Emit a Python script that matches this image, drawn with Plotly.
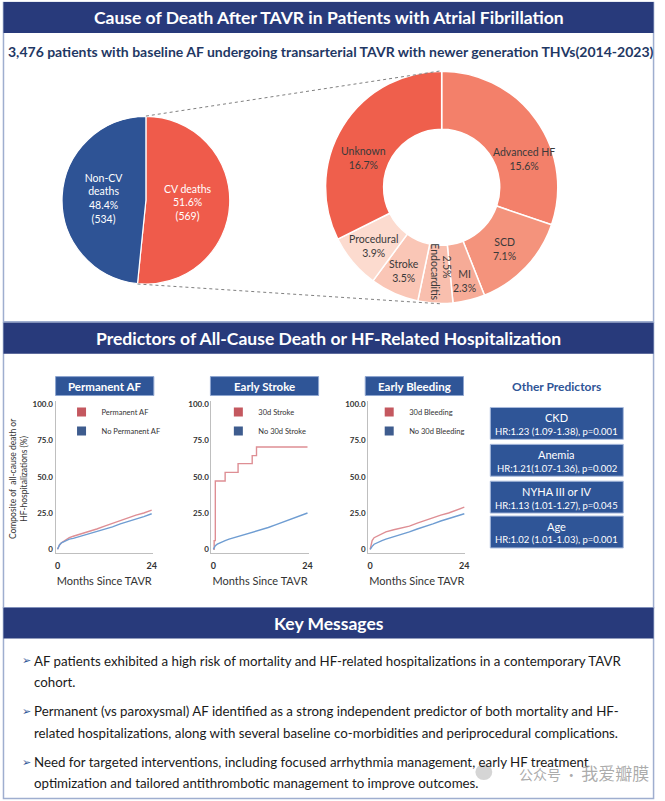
import math
import plotly.graph_objects as go

W, H = 665, 801
def px(x): return x / W
def py(y): return 1 - y / H

FONT = "Lato"
NAVY = "#283A7B"
BLUE = "#2F5597"
BORDER = "#9FAECF"

# ---------------- data ----------------
pie_labels = ["CV deaths", "Non-CV deaths"]
pie_pct = [51.6, 48.4]
pie_n = [569, 534]
pie_colors = ["#EF5B4B", "#2E5395"]

cv_labels = ["Advanced HF", "SCD", "MI", "Endocarditis", "Stroke", "Procedural", "Unknown"]
cv_pct = [15.6, 7.1, 2.3, 2.5, 3.5, 3.9, 16.7]
cv_colors = ["#F3806A", "#F4937C", "#F6AB97", "#F9BFAE", "#FAC6B6", "#FCDBCF", "#EF5F4C"]

perm_months = [0, 0.5, 1, 2, 3, 4, 6, 8, 10, 12, 14, 16, 18, 20, 22, 24]
perm_af = [0, 3, 4.5, 6.5, 8, 9, 10.5, 12, 14, 16, 18, 20, 21.5, 23.5, 25, 27]
no_perm_af = [0, 3, 4.5, 6, 7, 7.5, 9, 10.5, 12, 14, 15.5, 17.5, 19, 21, 22.5, 24.5]

stroke_months = [0, 0.2, 0.5, 3, 6.3, 9.9, 11, 24]
stroke_30d = [0, 6, 47, 53, 59, 64.5, 70.5, 70.5]
nostroke_months = [0, 0.5, 1, 2, 3, 4, 6, 8, 10, 12, 14, 16, 18, 20, 22, 24]
no_stroke_30d = [0, 2.5, 3.5, 5, 6, 7, 8.5, 10, 11.5, 13, 15, 17, 19, 21, 23, 25]

bleed_months = [0, 0.3, 0.5, 1, 2, 3, 4, 6, 8, 10, 12, 14, 16, 18, 20, 22, 24]
bleed_30d = [0, 4, 6, 8, 9.5, 11, 12, 13.5, 14.5, 16, 18, 20, 22, 23.5, 25, 27, 29]
no_bleed_30d = [0, 1.5, 2, 3.5, 5, 6, 7, 8.5, 10.5, 12, 14, 15.5, 17.5, 19.5, 21, 23, 24.5]

y_tickvals = [0, 25, 50, 75, 100]
y_ticktext = ["0", "25.0", "50.0", "75.0", "100.0"]
x_tickvals = [0, 24]
x_ticktext = ["0", "24"]

panel_titles = ["Permanent AF", "Early Stroke", "Early Bleeding"]
legend_names = [["Permanent AF", "No Permanent AF"],
                ["30d Stroke", "No 30d Stroke"],
                ["30d Bleeding", "No 30d Bleeding"]]

pred_names = ["CKD", "Anemia", "NYHA III or IV", "Age"]
pred_hr = ["HR:1.23 (1.09-1.38), p=0.001", "HR:1.21(1.07-1.36), p=0.002",
           "HR:1.13 (1.01-1.27), p=0.045", "HR:1.02 (1.01-1.03), p=0.001"]

key_lines = [
    ["AF patients exhibited a high risk of mortality and HF-related hospitalizations in a contemporary TAVR",
     "cohort."],
    ["Permanent (vs paroxysmal) AF identified as a strong independent predictor of both mortality and HF-",
     "related hospitalizations, along with several baseline co-morbidities and periprocedural complications."],
    ["Need for targeted interventions, including focused arrhythmia management, early HF treatment",
     "optimization and tailored antithrombotic management to improve outcomes."],
]

RED_LINE = "#DE8E94"
BLUE_LINE = "#6F9DD2"
RED_SQ = "#C4585F"
BLUE_SQ = "#3E5C8E"

fig = go.Figure()

# ---------------- pies ----------------
pc = (146, 199); pr = 84.5
fig.add_trace(go.Pie(
    labels=pie_labels, values=pie_pct, sort=False, direction="clockwise", rotation=0,
    marker=dict(colors=pie_colors, line=dict(color="white", width=1.2)),
    text=[f"{l.replace('Non-CV deaths', 'Non-CV<br>deaths')}<br>{p}%<br>({n})" for l, p, n in zip(pie_labels, pie_pct, pie_n)],
    textinfo="text", textposition="inside", insidetextorientation="horizontal",
    textfont=dict(family=FONT, size=10.5, color="white"),
    hoverinfo="label+percent",
    domain=dict(x=[px(pc[0] - pr), px(pc[0] + pr)], y=[py(pc[1] + pr), py(pc[1] - pr)]),
    showlegend=False))

dc = (444, 186); dr = 117
fig.add_trace(go.Pie(
    labels=cv_labels, values=cv_pct, sort=False, direction="clockwise", rotation=0, hole=0.5,
    marker=dict(colors=cv_colors, line=dict(color="white", width=1.5)),
    textinfo="none", hoverinfo="label+value",
    domain=dict(x=[px(dc[0] - dr), px(dc[0] + dr)], y=[py(dc[1] + dr), py(dc[1] - dr)]),
    showlegend=False))

annotations = []
shapes = []

def ann(x, y, text, size=10, color="#333333", bold=False, xanchor="center", angle=0, **kw):
    t = f"<b>{text}</b>" if bold else text
    annotations.append(dict(x=px(x), y=py(y), xref="paper", yref="paper", text=t, showarrow=False,
                            xanchor=xanchor, yanchor="middle", textangle=angle,
                            font=dict(family=kw.pop("family", FONT), size=size, color=color), **kw))

# donut labels
donut_pos = {"Advanced HF": (527, 158), "SCD": (507, 248), "MI": (467, 280),
             "Stroke": (406, 270), "Procedural": (375, 245), "Unknown": (365, 157)}
for lab, v in zip(cv_labels, cv_pct):
    if lab in donut_pos:
        x, y = donut_pos[lab]
        ann(x, y, f"{lab}<br>{v}%", size=10.5, color="#3A3A3A")
    else:
        ann(437, 271, lab, size=10.5, color="#3A3A3A", angle=90)
        ann(449, 266, f"{v}%", size=10.5, color="#3A3A3A", angle=90)

# dotted connectors (from the CV slice edges of the main pie to the donut)
ang = 2 * math.pi * pie_pct[0] / 100
bx = pc[0] + pr * math.sin(ang); by = pc[1] - pr * math.cos(ang)
shapes.append(dict(type="line", xref="paper", yref="paper", x0=px(pc[0]), y0=py(pc[1] - pr),
                   x1=px(dc[0]), y1=py(dc[1] - dr), line=dict(color="#808080", width=1, dash="dot")))
shapes.append(dict(type="line", xref="paper", yref="paper", x0=px(bx), y0=py(by),
                   x1=px(dc[0]), y1=py(dc[1] + dr), line=dict(color="#808080", width=1, dash="dot")))

# ---------------- section frames & bands ----------------
L, R = 2.5, 657.5
for (y0, y1) in [(0.5, 321), (322, 608), (608, 799.5)]:
    shapes.append(dict(type="rect", xref="paper", yref="paper", x0=px(L), x1=px(R), y0=py(y1), y1=py(y0),
                       line=dict(color=BORDER, width=1.5), fillcolor="rgba(0,0,0,0)", layer="below"))
for (y0, y1, t) in [(0, 31, "Cause of Death After TAVR in Patients with Atrial Fibrillation"),
                    (322, 353, "Predictors of All-Cause Death or HF-Related Hospitalization"),
                    (608, 639, "Key Messages")]:
    shapes.append(dict(type="rect", xref="paper", yref="paper", x0=px(L), x1=px(R), y0=py(y1), y1=py(y0),
                       line=dict(width=0), fillcolor=NAVY, layer="below"))
    ann(330, (y0 + y1) / 2 + 0.5, t, size=17.5, color="white", bold=True)

ann(332, 50, "3,476 patients with baseline AF undergoing transarterial TAVR with newer generation THVs(2014-2023)",
    size=14, color="#1F3864", bold=True)

# ---------------- KM panels ----------------
panels = [
    dict(x0=55, x1=153, series=[(perm_months, perm_af, "linear"), (perm_months, no_perm_af, "linear")]),
    dict(x0=212, x1=310, series=[(stroke_months, stroke_30d, "hv"), (nostroke_months, no_stroke_30d, "linear")]),
    dict(x0=370, x1=468, series=[(bleed_months, bleed_30d, "linear"), (bleed_months, no_bleed_30d, "linear")]),
]
title_boxes = [(55, 154), (211, 320), (367, 466)]
legend_x = [61, 219, 371]
Y_TOP, Y_BOT = 400, 553
layout_axes = {}
for i, p in enumerate(panels):
    n = "" if i == 0 else str(i + 1)
    xa, ya = "x" + n, "y" + n
    for (mx, my, shape), c in zip(p["series"], [RED_LINE, BLUE_LINE]):
        fig.add_trace(go.Scatter(x=mx, y=my, mode="lines", line=dict(color=c, width=1.4, shape=shape),
                                 xaxis=xa, yaxis=ya, showlegend=False, hoverinfo="x+y"))
    lg = "legend" if i == 0 else f"legend{i + 1}"
    for name, c in zip(legend_names[i], [RED_SQ, BLUE_SQ]):
        fig.add_trace(go.Scatter(x=[None], y=[None], mode="markers", name=name,
                                 marker=dict(symbol="square", size=9, color=c),
                                 xaxis=xa, yaxis=ya, legend=lg, showlegend=True))
    layout_axes["xaxis" + n] = dict(domain=[px(p["x0"]), px(p["x1"])], range=[-0.5, 24.3],
                                    anchor=ya, tickvals=x_tickvals,
                                    ticktext=[f"<b>{t}</b>" for t in x_ticktext],
                                    showgrid=False, zeroline=False, showline=True, linecolor="#BFBFBF",
                                    linewidth=1, ticks="outside", ticklen=4, tickcolor="rgba(0,0,0,0)",
                                    tickfont=dict(family=FONT, size=9, color="#333"),
                                    title=dict(text="Months Since TAVR", standoff=7,
                                               font=dict(family=FONT, size=11, color="#333")))
    layout_axes["yaxis" + n] = dict(domain=[py(Y_BOT), py(Y_TOP)], range=[-2.5, 102.5], anchor=xa,
                                    tickvals=y_tickvals, ticktext=[f"<b>{t}</b>" for t in y_ticktext],
                                    showgrid=False, zeroline=False, showline=True, linecolor="#BFBFBF",
                                    linewidth=1, ticks="", tickfont=dict(family=FONT, size=8, color="#333"))
    layout_axes[lg] = dict(x=px(legend_x[i]), y=py(397), xanchor="left", yanchor="top",
                           bgcolor="rgba(0,0,0,0)", font=dict(family=FONT, size=7.5, color="#333"),
                           itemwidth=30, tracegroupgap=0, borderwidth=0)
    bx0, bx1 = title_boxes[i]
    shapes.append(dict(type="rect", xref="paper", yref="paper", x0=px(bx0), x1=px(bx1), y0=py(395), y1=py(376),
                       fillcolor=BLUE, line=dict(color="#8EA5D0", width=1)))
    ann((bx0 + bx1) / 2, 385.5, panel_titles[i], size=11.5, color="white", bold=True)

ann(17, 478, "Composite of  all-cause death or<br>HF-hospitalizations (%)", size=8.5, color="#333", angle=-90)

# ---------------- other predictors ----------------
ann(560, 386, "Other Predictors", size=12, color=BLUE, bold=True)
box_tops = [407, 444, 481, 516]
for name, hr, t in zip(pred_names, pred_hr, box_tops):
    shapes.append(dict(type="rect", xref="paper", yref="paper", x0=px(493), x1=px(627), y0=py(t + 32), y1=py(t),
                       fillcolor=BLUE, line=dict(color="#A9BBDD", width=1)))
    ann(560, t + 10, name, size=11, color="white")
    ann(560, t + 24, hr, size=9.5, color="white")

# ---------------- key messages ----------------
bullet_y = [(661, 683), (712, 734), (763, 784)]
for lines, ys in zip(key_lines, bullet_y):
    ann(19, ys[0], "➢", size=11, color=BLUE, xanchor="left", family="DejaVu Sans")
    for ln, y in zip(lines, ys):
        ann(31, y, ln, size=13.3, color="#1A1A1A", xanchor="left")

# watermark
annotations.append(dict(x=px(655), y=py(773), xref="paper", yref="paper", showarrow=False, xanchor="right",
                        yanchor="middle",
                        text="<span style='font-size:14px'>公众号 · </span><span style='font-size:17px'>我爱瓣膜</span>",
                        font=dict(family="Noto Sans CJK SC", size=17, color="rgba(150,150,150,0.8)")))
shapes.append(dict(type="circle", xref="paper", yref="paper", x0=px(478), x1=px(495), y0=py(781), y1=py(765),
                   fillcolor="rgba(185,185,185,0.6)", line=dict(width=0)))

fig.update_layout(width=W, height=H, margin=dict(l=0, r=0, t=0, b=0), paper_bgcolor="white",
                  plot_bgcolor="white", annotations=annotations, shapes=shapes,
                  font=dict(family=FONT), **layout_axes)

fig.write_html("out.html", config={"displayModeBar": False},
               post_script="document.body.style.margin='0';")
